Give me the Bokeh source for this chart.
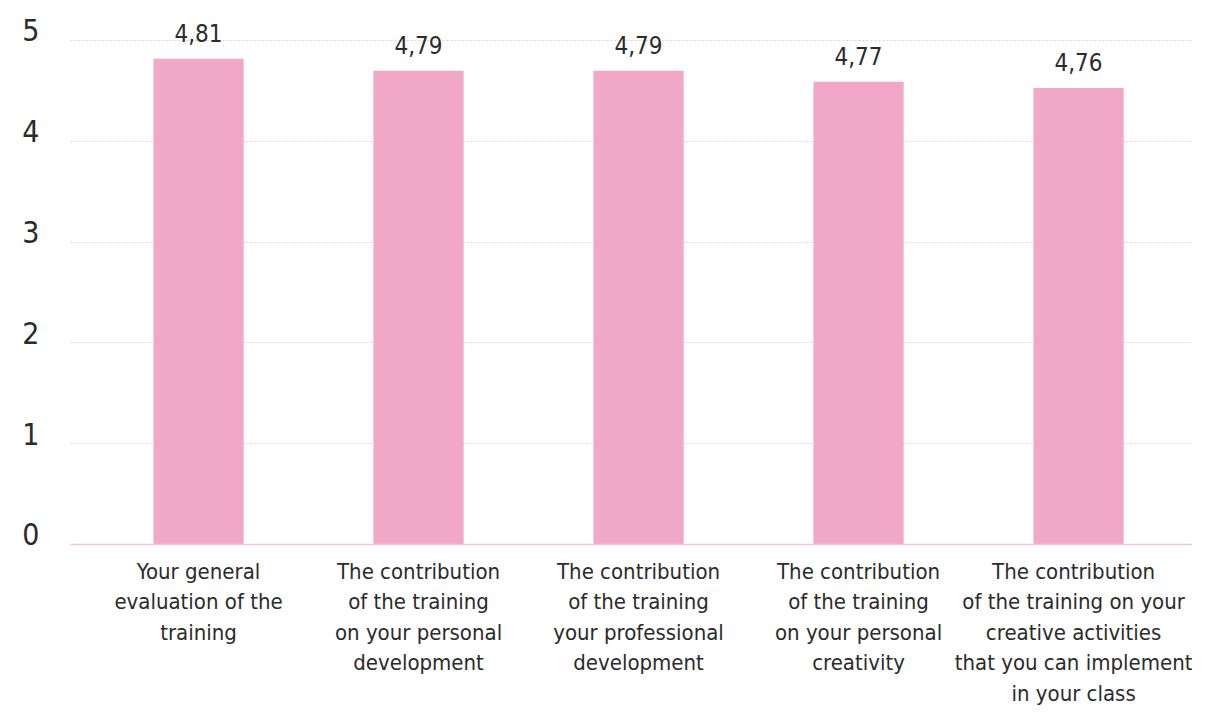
from bokeh.plotting import figure
from bokeh.models import ColumnDataSource, FixedTicker, Range1d, LinearAxis
from bokeh.core.properties import value
from bokeh.embed import file_html
from bokeh.resources import INLINE

categories = [
    "Your general\nevaluation of the\ntraining",
    "The contribution\nof the training\non your personal\ndevelopment",
    "The contribution\nof the training\nyour professional\ndevelopment",
    "The contribution\nof the training\non your personal\ncreativity",
    "The contribution\nof the training on your\ncreative activities\nthat you can implement\nin your class",
]
bar_values = [4.82, 4.70, 4.70, 4.59, 4.53]
value_labels = ["4,81", "4,79", "4,79", "4,77", "4,76"]
y_ticks = [0, 1, 2, 3, 4, 5]

FONT = "DejaVu Sans Condensed"
TEXT = "#2b2b2b"
PINK = "#F0A8C6"
GRID = "#F6C3D7"

Y_END = 5.377
LABEL_SHIFT = 0.1  # lift y tick labels slightly above their gridlines

xs = list(range(len(categories)))
src = ColumnDataSource(dict(x=xs, top=bar_values, lab=value_labels))

p = figure(width=1192, height=708, output_backend="svg", toolbar_location=None,
           x_range=Range1d(-0.582, 4.518), y_range=Range1d(0, Y_END),
           min_border_left=70, min_border_right=0, min_border_top=2, min_border_bottom=164)
p.outline_line_color = None
p.background_fill_color = "white"
p.extra_y_ranges = {"ylab": Range1d(-LABEL_SHIFT, Y_END - LABEL_SHIFT)}

p.vbar(x="x", top="top", bottom=0, width=0.41, source=src, fill_color=PINK, line_color=None)
p.text(x="x", y="top", text="lab", source=src, text_align="center", text_baseline="alphabetic",
       y_offset=-26, text_font=value(FONT), text_font_size="24px", text_color=TEXT)

p.xaxis.ticker = FixedTicker(ticks=xs)
p.xaxis.major_label_overrides = {i: c for i, c in enumerate(categories)}
p.xaxis.major_label_text_font = FONT
p.xaxis.major_label_text_font_size = "22px"
p.xaxis.major_label_text_color = TEXT
p.xaxis.major_label_text_line_height = 1.22
p.xaxis.major_label_standoff = 8
p.xaxis.major_tick_line_color = None
p.xaxis.minor_tick_line_color = None
p.xaxis.axis_line_color = GRID
p.xaxis.axis_line_width = 1.5
p.xgrid.grid_line_color = None

p.yaxis.visible = False
p.ygrid.ticker = FixedTicker(ticks=y_ticks)
p.ygrid.grid_line_color = GRID
p.ygrid.grid_line_dash = "2 2"
p.ygrid.grid_line_width = 1

yax = LinearAxis(y_range_name="ylab", ticker=FixedTicker(ticks=y_ticks))
yax.major_label_text_font = FONT
yax.major_label_text_font_size = "30px"
yax.major_label_text_color = TEXT
yax.major_label_standoff = 25
yax.axis_line_color = None
yax.major_tick_line_color = None
yax.minor_tick_line_color = None
p.add_layout(yax, "left")

open("out.html", "w").write(file_html(p, INLINE))
